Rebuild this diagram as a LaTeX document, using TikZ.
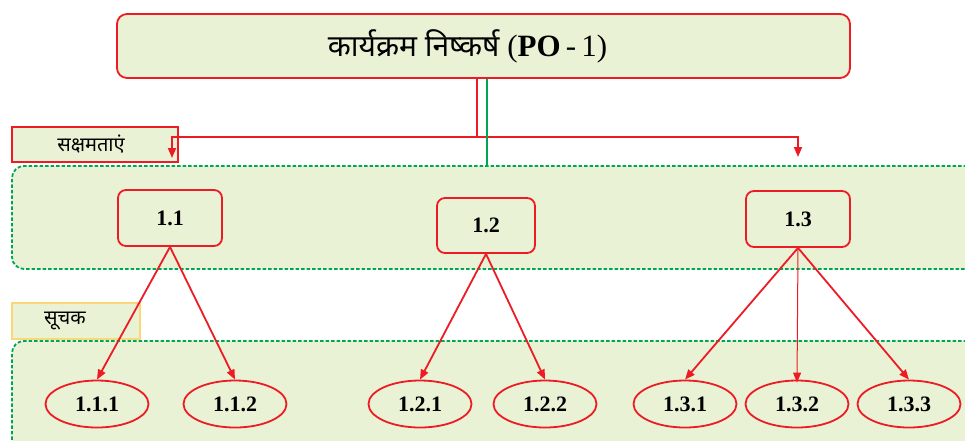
\documentclass[tikz,border=0pt]{standalone}
\usepackage{fontspec}
\setmainfont{Liberation Serif}
\newfontfamily\dev[Script=Devanagari]{Noto Sans}
\usetikzlibrary{arrows.meta,shapes.geometric}
\definecolor{rd}{RGB}{237,28,36}
\definecolor{gr}{RGB}{0,166,81}
\definecolor{lg}{RGB}{234,242,214}
\definecolor{yl}{RGB}{250,215,120}
\begin{document}
\begin{tikzpicture}[x=1pt,y=-1pt,
  box/.style={draw=rd, fill=lg, line width=1.8pt, rounded corners=8pt, inner sep=0pt,
    font=\fontsize{22}{22}\selectfont\bfseries},
  ell/.style={ellipse, draw=rd, fill=lg, line width=1.8pt, inner sep=0pt,
    minimum width=103pt, minimum height=47pt, font=\fontsize{22}{22}\selectfont\bfseries},
  band/.style={draw=gr, dash pattern=on 3.5pt off 2pt, line width=1.8pt, fill=lg,
    rounded corners=12pt, inner sep=0pt},
  arr/.style={draw=rd, line width=1.8pt, -{Triangle[length=10pt,width=8pt]}},
  thinarr/.style={draw=rd, line width=1pt, -{Triangle[length=10pt,width=8pt]}},
  lbl/.style={inner sep=0pt, font=\dev\fontsize{20}{20}\selectfont}
]
\useasboundingbox (0,0) rectangle (965,440);
\clip (0,0) rectangle (965,440);
% bands
\node[band, minimum width=978pt, minimum height=103pt] (bandA) at (501,217.5) {};
\node[band, minimum width=978pt, minimum height=119pt] (bandB) at (501,400.5) {};
% top box
\node[box, minimum width=733pt, minimum height=64pt, rounded corners=10pt, font=\normalfont] (po) at (483.5,46)
  {\hspace*{-32pt}\dev\fontsize{30}{30}\selectfont कार्यक्रम निष्कर्ष {\rmfamily\fontsize{31}{31}\selectfont (\textbf{PO}\,-\,1)}};
% label boxes
\node[draw=rd, fill=lg, line width=1.2pt, minimum width=166pt, minimum height=35pt, lbl] (sk) at (95,144.5) {\hspace*{-8pt}सक्षमताएं};
\node[draw=yl, fill=lg, line width=1.4pt, minimum width=128pt, minimum height=36pt, lbl] (su) at (76,321) {\hspace*{-22pt}सूचक};
% competency boxes
\node[box, minimum width=104pt, minimum height=56pt] (c1) at (170,218) {1.1};
\node[box, minimum width=98pt, minimum height=55pt] (c2) at (486,225.5) {1.2};
\node[box, minimum width=104pt, minimum height=56pt] (c3) at (798,219) {1.3};
% indicators
\node[ell] (i11) at (97,404) {1.1.1};
\node[ell] (i12) at (235,404) {1.1.2};
\node[ell] (i21) at (420,404) {1.2.1};
\node[ell] (i22) at (545,404) {1.2.2};
\node[ell] (i31) at (685,404) {1.3.1};
\node[ell] (i32) at (797,404) {1.3.2};
\node[ell] (i33) at (909,404) {1.3.3};
% top connectors
\coordinate (ta) at (172,158);
\coordinate (tb) at (798,157);
\draw[draw=rd, line width=1.8pt] ([xshift=-6.5pt]po.south) -- ++(0,58) coordinate (mid);
\draw[arr] (mid) -| (ta);
\draw[arr] (mid) -| (tb);
\draw[draw=gr, line width=1.8pt] ([xshift=3.5pt]po.south) -- ([xshift=3.5pt]po.south |- bandA.north);
% lower connectors
\draw[arr] (c1.south) -- (i11.north);
\draw[arr] (c1.south) -- (i12.north);
\draw[arr] (c2.south) -- (i21.north);
\draw[arr] (c2.south) -- (i22.north);
\draw[arr] (c3.south) -- (i31.north);
\draw[thinarr] (c3.south) -- ([yshift=-3pt]i32.north);
\draw[arr] (c3.south) -- (i33.north);
\end{tikzpicture}
\end{document}
